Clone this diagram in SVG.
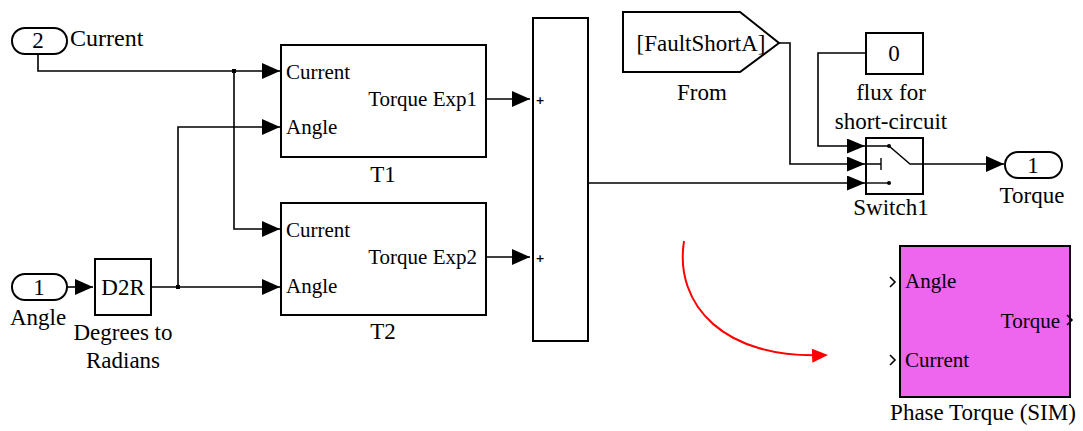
<svg xmlns="http://www.w3.org/2000/svg" width="1083" height="431" viewBox="0 0 1083 431">
  <style>
    text { font-family: "Liberation Serif", "DejaVu Serif", serif; fill: #000; }
    .lbl { font-size: 23px; }
    .port { font-size: 21px; }
    .mid { text-anchor: middle; }
    .end { text-anchor: end; }
    .plus { font-family: "DejaVu Sans", sans-serif; font-size: 11px; font-weight: bold; text-anchor: middle; }
    .blk { fill: #fff; stroke: #000; stroke-width: 2; }
    .wire { fill: none; stroke: #000; stroke-width: 1.6; }
    .sw { fill: none; stroke: #000; stroke-width: 1.4; }
    .chev { fill: none; stroke: #000; stroke-width: 1.6; }
  </style>
  <defs>
    <marker id="arr" markerUnits="userSpaceOnUse" markerWidth="18" markerHeight="16" refX="18" refY="8" orient="auto" viewBox="0 0 18 16">
      <path d="M0,0 L18,8 L0,16 Z" fill="#000"/>
    </marker>
    <marker id="arrSmall" markerUnits="userSpaceOnUse" markerWidth="18" markerHeight="15" refX="18" refY="7.5" orient="auto" viewBox="0 0 18 15">
      <path d="M0,0 L18,7.5 L0,15 Z" fill="#000"/>
    </marker>
    <marker id="arrRed" markerUnits="userSpaceOnUse" markerWidth="16" markerHeight="14" refX="14" refY="7" orient="auto" viewBox="0 0 16 14">
      <path d="M0,0 L16,7 L0,14 Z" fill="#f00"/>
    </marker>
  </defs>

  <!-- signal lines -->
  <g id="connectors">
    <!-- Current inport to T1 / T2 -->
    <path class="wire" d="M38,54 V71 H280" marker-end="url(#arr)"/>
    <path class="wire" d="M234,71 V229 H280" marker-end="url(#arr)"/>
    <rect x="232" y="69" width="4" height="4" fill="#000"/>
    <!-- Angle inport to D2R -->
    <path class="wire" d="M67,287 H93" marker-end="url(#arr)"/>
    <!-- D2R output to T1 / T2 -->
    <path class="wire" d="M152,287 H280" marker-end="url(#arr)"/>
    <path class="wire" d="M178,287 V127 H280" marker-end="url(#arr)"/>
    <rect x="176" y="285" width="4" height="4" fill="#000"/>
    <!-- T1 / T2 outputs to sum -->
    <path class="wire" d="M486,99 H530" marker-end="url(#arr)"/>
    <path class="wire" d="M486,257 H530" marker-end="url(#arr)"/>
    <!-- sum output to switch -->
    <path class="wire" d="M588,183 H865" marker-end="url(#arrSmall)"/>
    <!-- From tag to switch control -->
    <path class="wire" d="M779,43 H790 V164 H865" marker-end="url(#arrSmall)"/>
    <!-- constant to switch -->
    <path class="wire" d="M866,53 H818 V146 H865" marker-end="url(#arrSmall)"/>
    <!-- switch output to outport -->
    <path class="wire" d="M923,164 H1004" marker-end="url(#arr)"/>
    <!-- annotation arrow -->
    <path d="M684,241 C674,305 724,360 826,355" fill="none" stroke="#f00" stroke-width="2" marker-end="url(#arrRed)"/>
  </g>

  <!-- inport 2: Current -->
  <g id="in_current">
    <rect x="12" y="28" width="55" height="26" rx="13" ry="13" class="blk"/>
    <text x="38" y="48" class="lbl mid">2</text>
    <text x="70" y="46" class="lbl" style="font-size:24px">Current</text>
  </g>

  <!-- inport 1: Angle -->
  <g id="in_angle">
    <rect x="12" y="274" width="55" height="26" rx="13" ry="13" class="blk"/>
    <text x="39" y="295" class="lbl mid">1</text>
    <text x="38" y="325" class="lbl mid">Angle</text>
  </g>

  <!-- degrees to radians -->
  <g id="d2r">
    <rect x="95" y="259" width="56" height="56" class="blk"/>
    <text x="123" y="295" class="lbl mid">D2R</text>
    <text x="123" y="340" class="lbl mid">Degrees to</text>
    <text x="123" y="368" class="lbl mid">Radians</text>
  </g>

  <!-- torque expression T1 -->
  <g id="t1">
    <rect x="281" y="45" width="205" height="112" class="blk"/>
    <text x="286" y="79" class="port">Current</text>
    <text x="286" y="134" class="port">Angle</text>
    <text x="477" y="106" class="port end">Torque Exp1</text>
    <text x="383" y="182" class="lbl mid">T1</text>
  </g>

  <!-- torque expression T2 -->
  <g id="t2">
    <rect x="281" y="203" width="205" height="112" class="blk"/>
    <text x="286" y="237" class="port">Current</text>
    <text x="286" y="293" class="port">Angle</text>
    <text x="477" y="264" class="port end">Torque Exp2</text>
    <text x="383" y="339" class="lbl mid">T2</text>
  </g>

  <!-- sum -->
  <g id="sum">
    <rect x="533" y="18" width="55" height="323" class="blk"/>
    <text x="540" y="104" class="plus">+</text>
    <text x="540" y="262" class="plus">+</text>
  </g>

  <!-- From tag -->
  <g id="from">
    <polygon points="623,12 740,12 779,43 740,72 623,72" class="blk"/>
    <text x="701" y="51" class="lbl mid">[FaultShortA]</text>
    <text x="702" y="100" class="lbl mid">From</text>
  </g>

  <!-- constant -->
  <g id="const0">
    <rect x="866" y="33" width="57" height="41" class="blk"/>
    <text x="894" y="61" class="lbl mid">0</text>
    <text x="891" y="100" class="lbl mid">flux for</text>
    <text x="891" y="129" class="lbl mid">short-circuit</text>
  </g>

  <!-- switch -->
  <g id="switch1">
    <rect x="866" y="138" width="57" height="56" class="blk"/>
    <path class="sw" d="M866,146 H889 L910,164 H923"/>
    <circle cx="889" cy="146" r="2" fill="#000"/>
    <path class="sw" d="M866,164 H881 M881,158 V170"/>
    <path class="sw" d="M866,183 H889"/>
    <circle cx="889" cy="183" r="2" fill="#000"/>
    <text x="891" y="215" class="lbl mid">Switch1</text>
  </g>

  <!-- outport 1: Torque -->
  <g id="out_torque">
    <rect x="1005" y="152" width="57" height="26" rx="13" ry="13" class="blk"/>
    <text x="1033" y="173" class="lbl mid">1</text>
    <text x="1032" y="203" class="lbl mid">Torque</text>
  </g>

  <!-- phase torque subsystem -->
  <g id="phase_torque">
    <rect x="900" y="246" width="170" height="151" fill="#ee66ee" stroke="#000" stroke-width="2"/>
    <path class="chev" d="M890,277 L895,282 L890,287"/>
    <path class="chev" d="M890,355 L895,360 L890,365"/>
    <path class="chev" d="M1067,315 L1072,320 L1067,325"/>
    <text x="905" y="288" class="port">Angle</text>
    <text x="905" y="367" class="port">Current</text>
    <text x="1060" y="328" class="port end">Torque</text>
    <text x="983" y="420" class="lbl mid">Phase Torque (SIM)</text>
  </g>
</svg>
